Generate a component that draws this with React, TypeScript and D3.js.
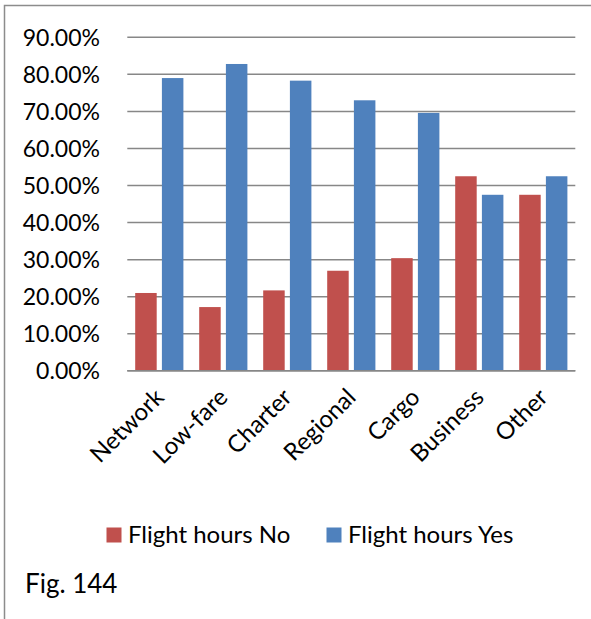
import React from "react";
import * as d3 from "d3";

const categories = ["Network", "Low-fare", "Charter", "Regional", "Cargo", "Business", "Other"];
const seriesNames = ["Flight hours No", "Flight hours Yes"];
const flightHoursNo = [0.21, 0.172, 0.217, 0.27, 0.304, 0.525, 0.475];
const flightHoursYes = [0.79, 0.828, 0.783, 0.73, 0.696, 0.475, 0.525];
const yTicks = [0, 0.1, 0.2, 0.3, 0.4, 0.5, 0.6, 0.7, 0.8, 0.9];
const colors = ["#C0504D", "#4F81BD"];
const caption = "Fig. 144";

const W = 591;
const H = 619;
const FONT = "Lato, 'Open Sans', sans-serif";

export default function App() {
  const left = 127.3;
  const right = 575.3;
  const y0 = 370.8;
  const y90 = 37.3;

  const x = d3.scaleBand<string>().domain(categories).range([left, right]).paddingInner(0).paddingOuter(0);
  const y = d3.scaleLinear().domain([0, 0.9]).range([y0, y90]);
  const fmt = d3.format(".2%");
  const bw = x.bandwidth();
  const barW = 21.5;
  const gap = 5.2;
  const pad = (bw - 2 * barW - gap) / 2;
  const series = [flightHoursNo, flightHoursYes];

  return (
    <svg width={W} height={H} style={{ position: "absolute", left: 0, top: 0, background: "#fff" }} fontFamily={FONT}>
      <rect x={0} y={0} width={W} height={H} fill="#fff" />
      <rect x={4.5} y={5.5} width={W + 10} height={H + 10} fill="none" stroke="#8c8c8c" strokeWidth={1.5} />
      {yTicks.map((t) => (
        <g key={t}>
          <line x1={left} x2={right} y1={y(t)} y2={y(t)} stroke="#878787" strokeWidth={1.5} />
          <text x={100} y={y(t)} dy="0.36em" textAnchor="end" fontSize={23} fill="#000">
            {fmt(t)}
          </text>
        </g>
      ))}
      {series.map((vals, si) =>
        vals.map((v, i) => (
          <rect
            key={`${si}-${i}`}
            x={(x(categories[i]) as number) + pad + si * (barW + gap)}
            y={y(v)}
            width={barW}
            height={y0 - y(v)}
            fill={colors[si]}
          />
        ))
      )}
      <line x1={left} x2={right} y1={y0} y2={y0} stroke="#878787" strokeWidth={1.5} />
      {categories.map((c) => {
        const cx = (x(c) as number) + bw / 2 + 6;
        const cy = y0 + 28;
        return (
          <text
            key={c}
            x={cx}
            y={cy}
            textAnchor="end"
            fontSize={24}
            fill="#000"
            transform={`rotate(-45 ${cx} ${cy})`}
          >
            {c}
          </text>
        );
      })}
      {seriesNames.map((n, i) => {
        const lx = i === 0 ? 106.5 : 326.5;
        return (
          <g key={n}>
            <rect x={lx} y={527.5} width={15} height={15} fill={colors[i]} />
            <text x={lx + 21.5} y={543} fontSize={24} fill="#000">
              {n}
            </text>
          </g>
        );
      })}
      <text x={25} y={593} fontSize={26} fill="#000">
        {caption}
      </text>
    </svg>
  );
}
